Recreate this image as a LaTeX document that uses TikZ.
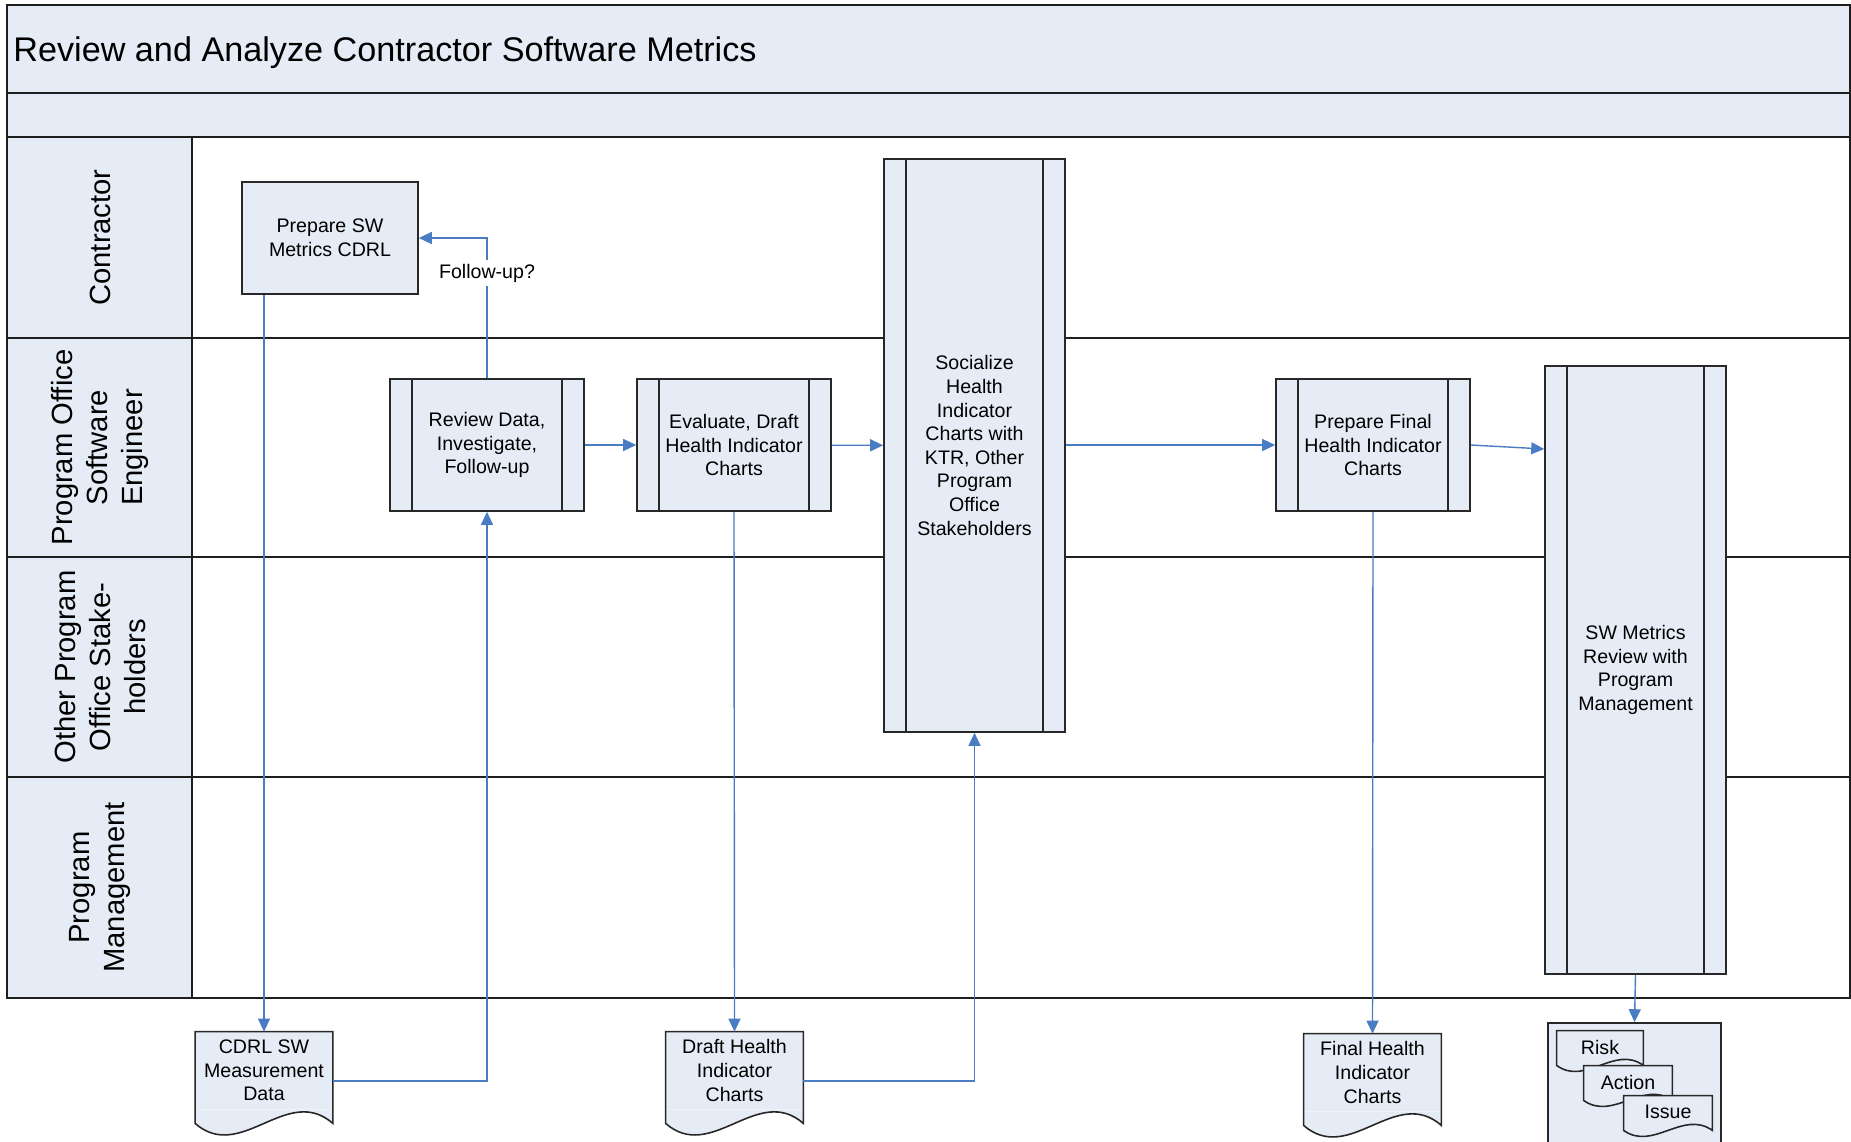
\documentclass[tikz,border=0pt]{standalone}
\usepackage{fontspec}
\setmainfont{Liberation Sans}
\usetikzlibrary{calc, arrows.meta}

\definecolor{boxfill}{RGB}{230,236,246}
\definecolor{flowblue}{RGB}{74,124,196}
\definecolor{frameline}{RGB}{30,30,30}
\definecolor{boxline}{RGB}{40,40,40}

\newcommand{\boxfont}{\fontsize{9.8}{11.8}\selectfont}
\newcommand{\lanefont}{\fontsize{14.6}{17.3}\selectfont}

% wavy bottom of a document node: name, side extension, wave height
\newcommand{\docbottom}[3]{%
	\coordinate (#1-r) at ([yshift=-#2]#1.south east);
	\coordinate (#1-l) at ([yshift=-#2]#1.south west);
	\fill[boxfill] (#1.south west) -- (#1.south east) -- (#1-r)
		.. controls ($(#1-r)!0.333!(#1-l)+(0pt,#3)$) and ($(#1-r)!0.667!(#1-l)-(0pt,#3)$) .. (#1-l) -- cycle;
	\draw[boxline, line width=0.8pt] (#1.south west) -- (#1.north west) -- (#1.north east) -- (#1-r)
		.. controls ($(#1-r)!0.333!(#1-l)+(0pt,#3)$) and ($(#1-r)!0.667!(#1-l)-(0pt,#3)$) .. (#1-l) -- cycle;
}

\begin{document}
\begin{tikzpicture}[x=0.5pt, y=-0.5pt,
	frame/.style={draw=frameline, line width=1pt},
	task/.style={draw=boxline, fill=boxfill, line width=0.8pt, rectangle,
		align=center, font=\boxfont, inner sep=0pt},
	proc/.style={task, path picture={
		\draw[boxline, line width=0.8pt]
			([xshift=11pt]path picture bounding box.north west) -- ([xshift=11pt]path picture bounding box.south west)
			([xshift=-11pt]path picture bounding box.north east) -- ([xshift=-11pt]path picture bounding box.south east);}},
	doc/.style={fill=boxfill, rectangle, align=center, font=\boxfont, inner sep=0pt},
	lanelabel/.style={rotate=90, align=center, font=\lanefont},
	flow/.style={draw=flowblue, line width=0.7pt, -{Triangle[length=6.5pt, width=6pt]}}]

	\def \xl {7}
	\def \xr {1850}
	\def \xc {192}

	\useasboundingbox (0,0) rectangle (1851,1141);

	% pool and lanes
	\draw[frame, fill=boxfill] (\xl,5) rectangle (\xr,93);
	\draw[frame, fill=boxfill] (\xl,93) rectangle (\xr,137);
	\fill[boxfill] (\xl,137) rectangle (\xc,998);
	\draw[frame] (\xl,137) rectangle (\xr,998);
	\draw[frame] (\xc,137) -- (\xc,998);
	\foreach \y in {338, 557, 777}
		\draw[frame] (\xl,\y) -- (\xr,\y);

	\node[anchor=west, inner sep=0pt, font=\fontsize{17.1}{20}\selectfont] (title) at (13,53)
		{Review and Analyze Contractor Software Metrics};

	\node[lanelabel] (contractor) at (100,237.5) {Contractor};
	\node[lanelabel] (engineer)   at (100,447.5) {Program Office\\Software\\Engineer};
	\node[lanelabel] (others)     at (100,667)   {Other Program\\Office Stake-\\holders};
	\node[lanelabel] (management) at (100,887.5) {Program\\Management};

	% steps
	\node[task, minimum width=88pt, minimum height=56pt] (prepare) at (330,238)
		{Prepare SW\\Metrics CDRL};
	\node[proc, minimum width=97pt, minimum height=66pt] (review) at (487,445)
		{Review Data,\\Investigate,\\Follow-up};
	\node[proc, minimum width=97pt, minimum height=66pt] (evaluate) at (734,445)
		{Evaluate, Draft\\Health Indicator\\Charts};
	\node[proc, minimum width=90.5pt, minimum height=286.5pt] (socialize) at (974.5,445.5)
		{Socialize\\Health\\Indicator\\Charts with\\KTR, Other\\Program\\Office\\Stakeholders};
	\node[proc, minimum width=97pt, minimum height=66pt] (final) at (1373,445)
		{Prepare Final\\Health Indicator\\Charts};
	\node[proc, minimum width=90.5pt, minimum height=304pt] (metricsreview) at (1635.5,670)
		{SW Metrics\\Review with\\Program\\Management};

	% documents
	\node[doc, minimum width=68.5pt, minimum height=38.5pt] (cdrldata) at (264,1070.5)
		{CDRL SW\\Measurement\\Data};
	\docbottom{cdrldata}{7pt}{20pt}
	\node[doc, minimum width=68.5pt, minimum height=38.5pt] (draftcharts) at (734.5,1070.5)
		{Draft Health\\Indicator\\Charts};
	\docbottom{draftcharts}{7pt}{20pt}
	\node[doc, minimum width=68.5pt, minimum height=38.5pt] (finalcharts) at (1372.5,1072.5)
		{Final Health\\Indicator\\Charts};
	\docbottom{finalcharts}{7pt}{20pt}

	\node[task, minimum width=86.5pt, minimum height=70pt] (logs) at (1634.5,1093) {};
	\node[doc, minimum width=43pt, minimum height=16pt] (risk) at (1600,1047) {Risk};
	\docbottom{risk}{1pt}{10.5pt}
	\node[doc, minimum width=44pt, minimum height=16pt] (action) at (1628,1082) {Action};
	\docbottom{action}{1pt}{10.5pt}
	\node[doc, minimum width=44pt, minimum height=16pt] (issue) at (1668,1112) {Issue};
	\docbottom{issue}{1pt}{10.5pt}

	% flows
	\draw[flow] (prepare.south -| cdrldata.north) -- (cdrldata.north);
	\draw[flow] ([yshift=-5.25pt]cdrldata.east) -| (review.south);
	\draw[flow] (review.north) |- (prepare.east);
	\node[fill=white, font=\boxfont, inner sep=2pt] (followup) at (487,273) {Follow-up?};
	\draw[flow] (review) -- (evaluate);
	\draw[flow] (evaluate) -- (socialize);
	\draw[flow] (evaluate.south) -- (draftcharts.north);
	\draw[flow] ([yshift=-5.25pt]draftcharts.east) -| (socialize.south);
	\draw[flow] (socialize.east |- final.west) -- (final.west);
	\draw[flow] (final.east) -- ([yshift=-2pt]final.east -| metricsreview.west);
	\draw[flow] (final.south) -- (finalcharts.north);
	\draw[flow] (metricsreview.south) -- (logs.north);
\end{tikzpicture}
\end{document}
